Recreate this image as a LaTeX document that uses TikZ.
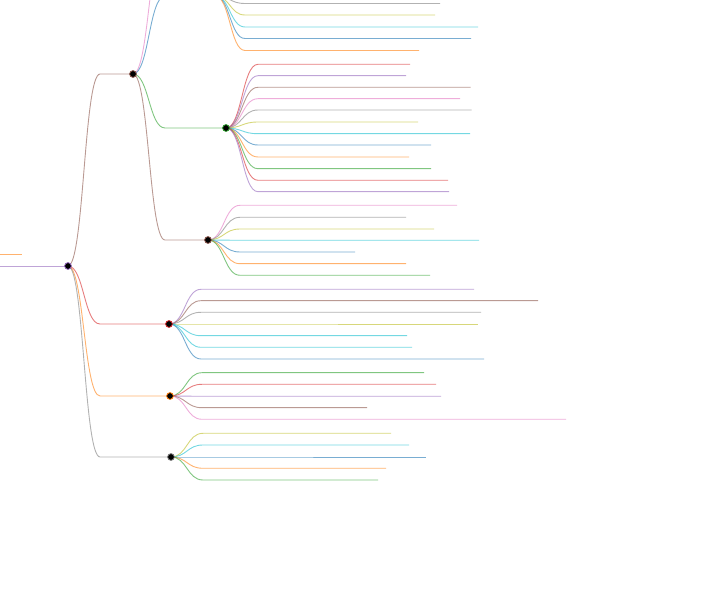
\documentclass[tikz,border=0pt]{standalone}
\usetikzlibrary{calc}
\definecolor{cred}{HTML}{D62728}
\definecolor{cpurple}{HTML}{9467BD}
\definecolor{cbrown}{HTML}{8C564B}
\definecolor{cpink}{HTML}{E377C2}
\definecolor{cgray}{HTML}{7F7F7F}
\definecolor{colive}{HTML}{BCBD22}
\definecolor{ccyan}{HTML}{17BECF}
\definecolor{cblue}{HTML}{1F77B4}
\definecolor{corange}{HTML}{FF7F0E}
\definecolor{cgreen}{HTML}{2CA02C}
\tikzset{
  link/.style={line width=0.9pt, draw opacity=0.6},
  dot/.style={fill=black, line width=0.8pt},
}
% #1 name, #2 parent coordinate, #3 colour, #4 start x, #5 end x, #6 y
\newcommand\mmnode[6]{%
  \coordinate (#1s) at (#4,#6);
  \coordinate (#1e) at (#5,#6);
  \draw[link,draw=#3] let \p1=(#2), \p2=(#1s) in
    (#2) .. controls ({(\x1+\x2)/2},\y1) and ({(\x1+\x2)/2},\y2) .. (#1s) -- (#1e);
}
\newcommand\mmdot[2]{\filldraw[dot,draw=#2] (#1) circle (3.4pt);}
\begin{document}
\begin{tikzpicture}[x=1pt,y=-1pt]
\useasboundingbox (0,0) rectangle (718,593);
\clip (0,0) rectangle (718,593);
% root
\coordinate (Rs) at (0,266);
\coordinate (R) at (68,266);
\draw[link,draw=cpurple] (Rs) -- (R);
\coordinate (Os) at (0,254);
\coordinate (Oe) at (22,254);
\draw[link,draw=corange] (Os) -- (Oe);
% level 1
\mmnode{A}{R}{cbrown}{100}{133}{74}
\mmnode{B}{R}{cred}{100}{169}{324}
\mmnode{C}{R}{corange}{100}{170}{396}
\mmnode{D}{R}{cgray}{100}{171}{457}
% level 2 under A
\mmnode{P}{Ae}{cpink}{165}{210}{-60}
\mmnode{L}{Ae}{cblue}{165}{215}{-4}
\mmnode{G}{Ae}{cgreen}{165}{226}{128}
\mmnode{H}{Ae}{cbrown}{165}{208}{240}
% children of L
\mmnode{L1}{Le}{cgray}{245}{440}{3.5}
\mmnode{L2}{Le}{colive}{245}{435}{15}
\mmnode{L3}{Le}{ccyan}{245}{478}{27}
\mmnode{L4}{Le}{cblue}{245}{471}{38.5}
\mmnode{L5}{Le}{corange}{245}{419}{50.5}
% children of G
\mmnode{G1}{Ge}{cred}{258}{410}{64.3}
\mmnode{G2}{Ge}{cpurple}{258}{406}{75.7}
\mmnode{G3}{Ge}{cbrown}{258}{470.5}{87.3}
\mmnode{G4}{Ge}{cpink}{258}{460}{98.7}
\mmnode{G5}{Ge}{cgray}{258}{471.5}{110}
\mmnode{G6}{Ge}{colive}{258}{418}{122}
\mmnode{G7}{Ge}{ccyan}{258}{470}{133.7}
\mmnode{G8}{Ge}{cblue}{258}{431}{145}
\mmnode{G9}{Ge}{corange}{258}{409}{157}
\mmnode{G10}{Ge}{cgreen}{258}{431}{168.7}
\mmnode{G11}{Ge}{cred}{258}{448}{180.3}
\mmnode{G12}{Ge}{cpurple}{258}{449}{191.7}
% children of H
\mmnode{H1}{He}{cpink}{240}{457}{205.3}
\mmnode{H2}{He}{cgray}{240}{406}{217.3}
\mmnode{H3}{He}{colive}{240}{434}{229}
\mmnode{H4}{He}{ccyan}{240}{479}{240.3}
\mmnode{H5}{He}{cblue}{240}{355}{252}
\mmnode{H6}{He}{corange}{240}{406}{263.7}
\mmnode{H7}{He}{cgreen}{240}{430}{275.3}
% children of B
\mmnode{B1}{Be}{cpurple}{201}{474}{289.3}
\mmnode{B2}{Be}{cbrown}{201}{538}{300.7}
\mmnode{B3}{Be}{cgray}{201}{481}{312.3}
\mmnode{B4}{Be}{colive}{201}{478}{324}
\mmnode{B5}{Be}{ccyan}{201}{407}{335.7}
\mmnode{B6}{Be}{ccyan}{201}{412}{347.3}
\mmnode{B7}{Be}{cblue}{201}{484}{359}
% children of C
\mmnode{C1}{Ce}{cgreen}{202}{424}{372.7}
\mmnode{C2}{Ce}{cred}{202}{436}{384.3}
\mmnode{C3}{Ce}{cpurple}{202}{441}{396.3}
\mmnode{C4}{Ce}{cbrown}{202}{367}{407.7}
\mmnode{C5}{Ce}{cpink}{202}{566}{419.3}
% children of D
\mmnode{D1}{De}{colive}{203}{391}{433.3}
\mmnode{D2}{De}{ccyan}{203}{409}{445}
\mmnode{D3}{De}{cblue}{203}{426}{457}
\mmnode{D4}{De}{corange}{203}{386}{468.3}
\mmnode{D5}{De}{cgreen}{203}{378}{480}
% dots
\mmdot{R}{cpurple}
\mmdot{Ae}{cbrown}
\mmdot{Le}{cblue}
\mmdot{Ge}{cgreen}
\mmdot{He}{cbrown}
\mmdot{Be}{cred}
\mmdot{Ce}{corange}
\mmdot{De}{cgray}
\end{tikzpicture}
\end{document}
